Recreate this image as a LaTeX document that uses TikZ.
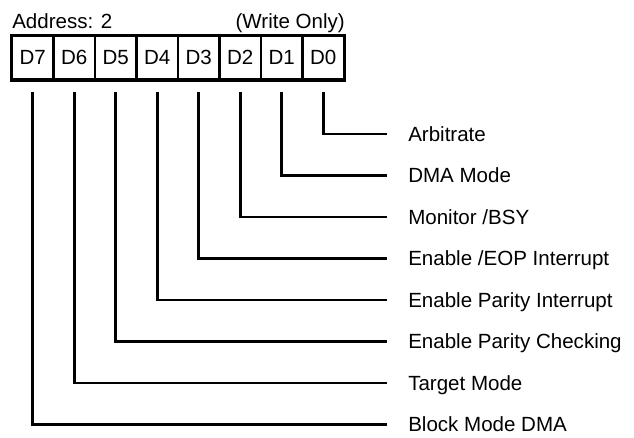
\documentclass[tikz,border=0pt]{standalone}
\usepackage{fontspec}
\setmainfont{Liberation Sans}
\begin{document}
\begin{tikzpicture}[x=0.75pt,y=-0.75pt,font=\fontsize{15.4}{17}\selectfont,
    cell/.style={draw,line width=1.5pt,inner sep=0pt,minimum width=31.1pt,minimum height=32.25pt},
    wire/.style={line width=2pt},
    bitlabel/.style={anchor=west,inner sep=0pt,text height=11pt,text depth=0pt}]
  \useasboundingbox (0,0) rectangle (634,437);
  \node[anchor=base west,inner sep=0pt] (addr) at (12,28) {Address: 2};
  \node[anchor=base east,inner sep=0pt] (mode) at (345,28) {(Write Only)};
  \foreach \i in {0,...,7}{
    \node[cell] (d\i) at ({32.75+41.5*(7-\i)},57.5) {D\i};
  }
  \draw[line width=2.25pt] (d7.north west) rectangle (d0.south east);
  \foreach \i/\name in {0/Arbitrate,1/DMA Mode,2/{Monitor /BSY},3/{Enable /EOP Interrupt},
      4/Enable Parity Interrupt,5/Enable Parity Checking,6/Target Mode,7/Block Mode DMA}{
    \node[bitlabel] (l\i) at (408,{134+41.5*\i}) {\name};
    \draw[wire] ([yshift=-9pt]d\i.south) |- ([xshift=-15.75pt]l\i.west);
  }
\end{tikzpicture}
\end{document}
